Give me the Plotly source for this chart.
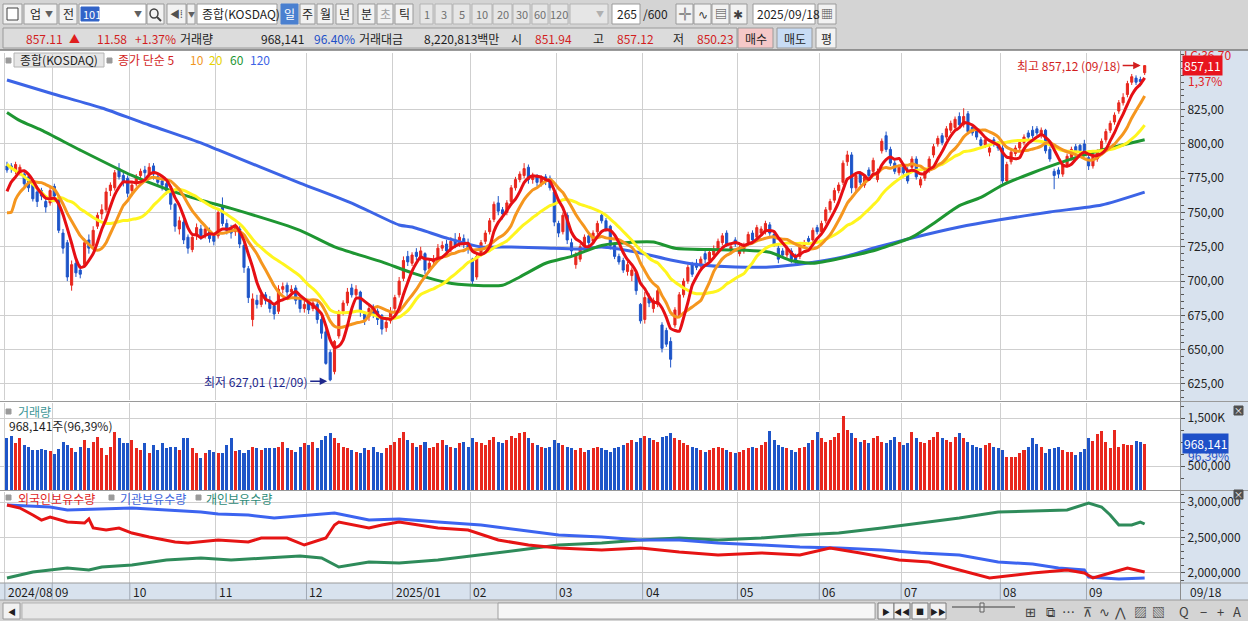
import numpy as np
import pandas as pd
import plotly.graph_objects as go

W, H = 1248, 621
PLOT_R = 1180   # right edge of the chart panes, px
FONT = "Noto Sans CJK KR, Noto Sans, DejaVu Sans, sans-serif"

# ---------------------------------------------------------------- data
month_labels = ["2024/08", "09", "10", "11", "12", "2025/01", "02", "03", "04",
                "05", "06", "07", "08", "09"]
month_start = [0, 11, 29, 49, 70, 90, 108, 128, 148, 170, 189, 208, 231, 251]

# closes before 08/16 (only used to seed the 5/10/20 day averages)
prior_closes = [839, 824, 822, 817, 819, 819, 821, 818, 815, 812, 779, 691, 732,
                737, 733, 748, 766, 764, 768]

opens = [
    784, 784, 780, 779, 778, 776, 771, 765, 766, 758, 757,
    769, 760, 735, 728, 697, 713, 708, 712, 730, 726, 740, 749, 752, 766, 768, 782, 777, 775,
    766, 772, 777, 781, 778, 784, 776, 773, 771, 764, 756, 738, 743, 732, 723, 733, 738, 734, 737, 733,
    733, 755, 742, 738, 736, 738, 726, 709, 672, 686, 683, 690, 686, 682, 678, 694, 697, 692, 695, 688, 680,
    684, 680, 683, 672, 663, 648, 634, 660, 678, 684, 695, 690, 692, 676, 674, 681, 678, 675, 666, 671,
    680, 690, 702, 718, 713, 721, 717, 720, 709, 714, 716, 724, 727, 723, 730, 727, 731, 728,
    716, 703, 720, 729, 736, 745, 757, 752, 750, 758, 768, 774, 777, 783, 774, 776, 771, 776, 775, 765,
    742, 736, 748, 728, 712, 716, 726, 733, 729, 736, 748, 744, 740, 726, 718, 715, 707, 704, 706, 683,
    672, 688, 680, 683, 668, 664, 656, 668, 675, 690, 700, 712, 713, 711, 720, 715, 719, 722, 728, 735, 722, 730,
    720, 722, 728, 735, 732, 735, 736, 741, 734, 724, 722, 719, 722, 718, 718, 726, 731, 730, 739,
    736, 744, 752, 759, 766, 772, 787, 792, 768, 778, 770, 781, 780, 774, 795, 806, 796, 786, 779,
    783, 781, 783, 789, 770, 775, 781, 792, 800, 806, 805, 810, 812, 820, 814, 822, 812, 810, 803, 799, 794, 803, 800,
    797, 773, 787, 793, 797, 801, 808, 810, 811, 806, 810, 796, 780, 781, 778, 785, 790, 798, 799, 800,
    790, 784, 789, 796, 803, 810, 816, 824, 830, 836, 845, 848, 847, 851.94,
]
highs = [
    787, 786, 787, 785, 780, 778, 773, 767, 768, 760, 768,
    771, 761, 738, 730, 715, 717, 712, 731, 734, 740, 750, 756, 768, 772, 781, 786, 780, 777,
    772, 778, 782, 784, 786, 786, 778, 775, 773, 766, 757, 747, 745, 734, 735, 742, 741, 741, 739, 735,
    753, 761, 745, 741, 742, 740, 728, 711, 691, 690, 693, 692, 689, 684, 697, 699, 699, 697, 697, 690, 686,
    687, 686, 685, 674, 666, 650, 657, 679, 686, 695, 698, 697, 693, 678, 683, 683, 680, 676, 673, 681,
    690, 703, 718, 722, 721, 724, 725, 721, 716, 719, 727, 729, 730, 732, 735, 735, 734, 731,
    717, 720, 730, 737, 746, 758, 762, 754, 759, 770, 776, 780, 786, 785, 779, 778, 777, 778, 777, 766,
    744, 750, 750, 731, 721, 727, 734, 735, 737, 744, 751, 746, 741, 728, 720, 717, 714, 710, 708, 684,
    692, 691, 688, 695, 670, 666, 659, 681, 692, 702, 712, 714, 716, 718, 722, 723, 726, 731, 735, 737, 727, 732,
    726, 728, 736, 737, 741, 740, 744, 743, 736, 726, 724, 726, 724, 720, 727, 730, 733, 739, 741,
    744, 754, 760, 768, 772, 788, 795, 794, 779, 780, 778, 783, 790, 782, 804, 809, 798, 788, 785,
    786, 783, 791, 791, 776, 782, 791, 800, 806, 808, 813, 817, 820, 823, 826, 824, 814, 812, 805, 805, 799, 805, 802,
    799, 787, 796, 799, 803, 807, 810, 813, 813, 812, 811, 798, 782, 783, 786, 793, 798, 800, 800, 803,
    792, 793, 796, 804, 811, 817, 823, 832, 837, 846, 851, 850, 849, 857.12,
]
lows = [
    779, 779, 778, 777, 769, 765, 758, 754, 759, 750, 755,
    760, 735, 720, 700, 693, 703, 702, 710, 720, 724, 738, 745, 750, 762, 766, 774, 769, 761,
    762, 769, 774, 775, 776, 774, 769, 766, 763, 752, 736, 734, 727, 720, 721, 730, 730, 731, 728, 726,
    731, 740, 734, 731, 733, 724, 706, 684, 667, 680, 681, 683, 677, 672, 676, 691, 689, 690, 683, 677, 677,
    676, 678, 669, 658, 639, 627.01, 632, 658, 675, 682, 688, 688, 674, 668, 671, 673, 668, 661, 663, 669,
    678, 688, 700, 711, 711, 715, 715, 705, 706, 711, 714, 722, 719, 721, 724, 725, 724, 720,
    697, 701, 718, 727, 734, 743, 748, 745, 748, 756, 766, 772, 775, 771, 771, 769, 769, 770, 766, 740,
    732, 734, 727, 719, 709, 714, 724, 726, 727, 734, 742, 736, 723, 716, 712, 706, 704, 700, 690, 669,
    669, 681, 677, 681, 648, 652, 637, 666, 673, 688, 698, 703, 708, 709, 713, 713, 717, 720, 726, 725, 720, 725,
    718, 720, 726, 728, 730, 733, 734, 733, 725, 713, 717, 717, 713, 712, 716, 724, 727, 728, 734,
    734, 742, 750, 757, 764, 770, 784, 764, 765, 770, 768, 775, 778, 772, 793, 794, 784, 778, 777,
    777, 771, 781, 774, 768, 773, 779, 790, 798, 799, 803, 808, 810, 812, 812, 807, 806, 803, 797, 797, 791, 798, 795,
    771, 771, 785, 791, 795, 799, 803, 804, 806, 804, 793, 787, 767, 775, 776, 783, 788, 792, 792, 792,
    781, 782, 787, 794, 801, 808, 814, 822, 828, 834, 843, 843, 842, 850.23,
]
closes = [
    781, 782, 785, 783, 771, 768, 760, 758, 762, 754, 766,
    762, 737, 724, 703, 712, 706, 705, 728, 724, 737, 748, 752, 765, 770, 779, 776, 772, 764,
    770, 776, 780, 779, 783, 778, 772, 770, 766, 756, 740, 744, 730, 724, 732, 739, 733, 738, 731, 729,
    750, 742, 737, 735, 739, 727, 710, 688, 687, 683, 690, 686, 680, 676, 694, 696, 692, 694, 686, 680, 683,
    679, 684, 672, 662, 640, 628, 656, 677, 684, 692, 690, 694, 678, 672, 680, 676, 672, 665, 670, 678,
    688, 700, 715, 714, 719, 718, 722, 708, 713, 716, 724, 726, 722, 729, 726, 732, 727, 724,
    700, 718, 728, 735, 744, 756, 751, 749, 757, 768, 774, 778, 782, 774, 776, 772, 775, 773, 768, 743,
    735, 748, 730, 722, 719, 725, 732, 728, 735, 742, 744, 738, 726, 718, 714, 708, 712, 708, 693, 671,
    688, 684, 686, 693, 651, 654, 643, 679, 690, 700, 710, 705, 710, 716, 716, 721, 722, 729, 733, 727, 725, 727,
    724, 726, 734, 730, 739, 738, 742, 735, 727, 716, 719, 724, 716, 714, 725, 728, 729, 737, 736,
    742, 752, 758, 766, 770, 786, 792, 768, 777, 772, 776, 777, 788, 780, 802, 796, 786, 780, 783,
    779, 773, 789, 776, 774, 780, 789, 798, 804, 801, 811, 815, 818, 814, 820, 809, 808, 805, 799, 803, 797, 800, 797,
    773, 785, 794, 797, 801, 805, 805, 806, 808, 810, 795, 789, 777, 778, 784, 791, 796, 794, 795, 794,
    784, 791, 794, 802, 809, 815, 821, 830, 834, 844, 849, 845, 845.5, 857.11,
]

# volume, thousand shares
volume_k = [
    1076, 1132, 972, 1076, 938, 903, 833, 833, 854, 833, 813, 743, 854, 1007, 938, 868, 799, 903, 1042, 882,
    1007, 1100, 868, 729, 903, 1215, 1076, 972, 972, 1042, 882, 833, 972, 764, 938, 833, 972, 868, 903, 903,
    833, 1076, 1090, 868, 764, 660, 764, 833, 799, 764, 764, 938, 1076, 813, 833, 764, 833, 903, 868, 833,
    882, 882, 868, 903, 1007,
    868, 833, 799, 903, 972, 938, 1007, 868, 1042, 1132, 1180, 1076, 972, 903, 868, 833, 799, 764, 868, 833,
    903, 799, 764, 868, 938, 1007,
    1076, 1215, 1042, 972, 903, 938, 1007, 868, 903, 972, 1042, 938, 903, 868, 972, 1007, 903, 1076, 1007, 972,
    938, 1042, 1107, 1007, 972, 1042, 1132, 1076, 1180, 1215,
    1076, 972, 938, 903, 868, 903, 1042, 972, 938, 903, 868, 833, 868, 799, 833, 868, 903, 868, 833, 799,
    868, 903, 938, 972, 1042, 1007, 1076, 1132, 1076, 1042,
    1007, 1107, 1132, 1180, 1076, 1042, 972, 938, 903, 868, 833, 799, 833, 868, 903, 868, 833, 799, 764, 799,
    833, 868, 903, 868, 938, 1007, 1230, 1042, 938, 903,
    868, 833, 799, 868, 903, 972, 1042, 1200, 1076, 1007, 1042, 1107, 1180, 1550, 1250, 1180, 1076, 1007, 1042, 972,
    1076, 1132, 1007, 972, 1042, 1107, 1007, 938, 972, 1200,
    1076, 1007, 972, 1042, 1107, 1200, 1076, 1042, 1007, 1107, 1180, 1076, 1007, 938, 903, 868, 938, 972, 903, 868,
    833, 694, 694, 694, 764, 833, 903, 1076, 951, 903, 764, 854, 868, 889, 833, 785, 785, 729, 785, 854,
    1076, 1021, 1160, 1229, 993, 882, 1250, 903, 951, 938, 938, 1021, 993, 968.141,
]

# 60 / 120 day averages (bar index, value)
ma60_idx = [0, 3, 8, 17, 29, 38, 45, 52, 68, 76, 87, 94, 102, 108, 115, 119, 125, 131, 138, 146,
            150, 155, 163, 169, 177, 182, 187, 194, 202, 210, 215, 221, 226, 231, 238, 246, 254, 264]
ma60_val = [823, 817, 810, 795.5, 777, 766, 759, 753, 737, 725, 714, 706, 699, 697, 697, 703, 713, 718, 726, 728.5,
            728.5, 724, 723, 722.7, 721, 715, 713, 717, 723, 732, 742, 755, 761, 770, 779, 788, 795.5, 803]
ma120_idx = [0, 10, 22, 33, 45, 49, 68, 80, 91, 94, 102, 110, 117, 125, 133, 138, 146, 154, 161, 169,
             177, 186, 194, 202, 210, 221, 230, 242, 254, 264]
ma120_val = [846.6, 837.1, 826.2, 813.8, 800.7, 795.6, 771.5, 756.9, 740.9, 739.4, 731.4, 724.9, 724.9, 724.1,
             723.4, 724.9, 721.2, 715.4, 711.7, 710.3, 710.3, 713.2, 717.6, 724.9, 731.4, 739.4, 744.5, 750.4,
             755.5, 764.9]

# holdings (shares)
foreign_idx = [0, 3, 6, 8, 10, 14, 18, 19, 20, 23, 26, 29, 33, 39, 42, 49, 56, 59, 65, 69, 74, 76, 77, 84,
               87, 91, 100, 107, 114, 121, 128, 138, 147, 156, 165, 175, 184, 191, 198, 207, 214, 221, 228,
               238, 246, 250, 252, 256, 260, 264]
foreign_qty = [2958000, 2915000, 2817000, 2746000, 2789000, 2718000, 2704000, 2761000, 2634000, 2606000,
               2634000, 2563000, 2507000, 2437000, 2423000, 2465000, 2437000, 2493000, 2493000, 2394000,
               2493000, 2676000, 2718000, 2634000, 2676000, 2718000, 2634000, 2606000, 2465000, 2394000,
               2352000, 2324000, 2352000, 2296000, 2254000, 2282000, 2254000, 2352000, 2282000, 2183000,
               2155000, 2042000, 1930000, 2000000, 2042000, 2000000, 1930000, 2000000, 2070000, 2014000]
inst_idx = [0, 10, 14, 22, 29, 37, 45, 49, 56, 62, 68, 76, 84, 91, 100, 110, 119, 128, 138, 147, 156, 165,
            175, 184, 193, 203, 212, 221, 230, 238, 244, 250, 251, 258, 264]
inst_qty = [2958000, 2930000, 2887000, 2901000, 2915000, 2887000, 2859000, 2831000, 2817000, 2775000,
            2803000, 2845000, 2746000, 2761000, 2718000, 2676000, 2606000, 2535000, 2507000, 2465000,
            2465000, 2423000, 2394000, 2366000, 2352000, 2324000, 2282000, 2254000, 2155000, 2127000,
            2070000, 2042000, 1944000, 1915000, 1930000]
indiv_idx = [0, 6, 10, 14, 19, 22, 29, 37, 45, 52, 60, 68, 73, 77, 84, 91, 100, 110, 119, 128, 138, 147,
             156, 165, 175, 184, 193, 203, 212, 221, 230, 246, 251, 254, 256, 258, 261, 263, 264]
indiv_qty = [1930000, 2014000, 2042000, 2070000, 2042000, 2085000, 2113000, 2183000, 2211000, 2183000,
             2211000, 2239000, 2211000, 2085000, 2155000, 2141000, 2183000, 2254000, 2324000, 2394000,
             2423000, 2465000, 2493000, 2465000, 2493000, 2535000, 2563000, 2634000, 2704000, 2775000,
             2859000, 2887000, 2986000, 2930000, 2817000, 2676000, 2676000, 2718000, 2690000]

price_ticks = [625, 650, 675, 700, 725, 750, 775, 800, 825]

# ---------------------------------------------------------------- colours
C_UP, C_DN = "#e8281e", "#1e55c8"
C_MA = {5: "#e60f14", 10: "#f5961e", 20: "#fff51e", 60: "#1e9632", 120: "#3c64e6"}
GRID = "#cfcfcf"
PANEL = "#d8e2ee"
TOOL = "#d4d4d4"

idx = np.arange(len(closes))
allc = pd.Series(prior_closes + closes, dtype=float)
n0 = len(prior_closes)
ma = {k: allc.rolling(k).mean().values[n0:] for k in (5, 10, 20)}
bar_col = [C_UP if c >= o else C_DN for o, c in zip(opens, closes)]

shapes, annos = [], []


def box(x0, y0, x1, y1, fill, line="#9a9a9a", lw=1, layer="below"):
    shapes.append(dict(type="rect", xref="paper", yref="paper", x0=x0 / W, x1=x1 / W,
                       y0=1 - y1 / H, y1=1 - y0 / H, fillcolor=fill,
                       line=dict(color=line, width=lw), layer=layer))


def seg(x0, y0, x1, y1, color, lw=1):
    shapes.append(dict(type="line", xref="paper", yref="paper", x0=x0 / W, x1=x1 / W,
                       y0=1 - y0 / H, y1=1 - y1 / H, line=dict(color=color, width=lw), layer="above"))


def label(x, y, s, color="#1e1e1e", size=12, anchor="left", bg=None):
    a = dict(xref="paper", yref="paper", x=x / W, y=1 - y / H, text=s, showarrow=False,
             xanchor=anchor, yanchor="middle", font=dict(family=FONT, size=size, color=color),
             borderpad=0)
    if bg:
        a["bgcolor"] = bg
    annos.append(a)


# ---- backgrounds
box(0, 0, W, 50, TOOL, line=TOOL, lw=0)
box(PLOT_R, 50, W, 600, PANEL, line=PANEL, lw=0)
box(0, 583, PLOT_R, 600, PANEL, line=PANEL, lw=0)
box(0, 600, W, H, TOOL, line=TOOL, lw=0)

# ---- toolbar row 1
box(3, 4, 22, 24, "#f2f2f2")
box(7, 8, 18, 20, "#ffffff", line="#404040")
box(24, 4, 57, 24, "#f2f2f2")
label(29, 14, "업")
label(49, 14, "▼", "#606060", 8, "center")
box(59, 4, 77, 24, "#f2f2f2")
label(68, 14, "전", anchor="center")
box(79, 4, 146, 24, "#ffffff")
box(81, 7, 99, 21, "#3264c8", line="#3264c8")
label(82, 14, "101", "#ffffff", 11)
label(138, 14, "▼", "#606060", 8, "center")
box(147, 4, 164, 24, "#f2f2f2")
shapes.append(dict(type="circle", xref="paper", yref="paper", x0=150 / W, x1=158 / W,
                   y0=1 - 18 / H, y1=1 - 9 / H, line=dict(color="#404040", width=1.5)))
seg(157, 17, 161, 21, "#404040", 2)
box(167, 4, 186, 24, "#f2f2f2")
label(176, 14, "◀⁞", "#505050", 10, "center")
box(187, 4, 195, 24, "#f2f2f2")
label(191, 14, "▼", "#606060", 7, "center")
box(197, 4, 277, 24, "#ffffff")
label(201, 14, "종합(KOSDAQ)", "#1e1e1e", 12)
for k, (t, a, b) in enumerate([("일", 281, 298), ("주", 300, 315), ("월", 317, 333), ("년", 336, 353),
                              ("분", 358, 375), ("초", 377, 393), ("틱", 395, 413)]):
    box(a, 4, b, 24, "#4a80d0" if k == 0 else "#f2f2f2", line="#4a80d0" if k == 0 else "#9a9a9a")
    label((a + b) / 2, 14, t, "#ffffff" if k == 0 else ("#a0a0a0" if t == "초" else "#1e1e1e"),
          12, "center")
for t, a, b in [("1", 420, 433), ("3", 435, 452), ("5", 453, 470), ("10", 472, 492), ("20", 493, 512),
                ("30", 513, 530), ("60", 532, 548), ("120", 550, 568)]:
    box(a, 4, b, 24, "#e6e6e6", line="#b4b4b4")
    label((a + b) / 2, 14, t, "#707070", 11, "center")
box(570, 4, 608, 24, "#e6e6e6", line="#b4b4b4")
label(600, 14, "▼", "#b0b0b0", 8, "center")
box(612, 4, 640, 24, "#ffffff")
label(638, 14, "265", anchor="right")
label(642, 14, "/600", "#1e1e1e", 12)
for t, a in [("╬", 676), ("∿", 694), ("▤", 712), ("✱", 730)]:
    box(a, 4, a + 17, 24, "#f2f2f2")
    label(a + 8.5, 14, t, "#404040", 12, "center")
box(753, 4, 815, 24, "#ffffff")
label(756, 14, "2025/09/18")
box(818, 4, 836, 24, "#f2f2f2")
label(827, 14, "▦", "#505050", 12, "center")

# ---- toolbar row 2
box(3, 28, 737, 48, "#dcdcdc")
label(64, 38, "857.11", "#d21e1e", 12, "right")
label(74, 38, "▲", "#e01e1e", 11, "center")
label(128, 38, "11.58", "#d21e1e", 12, "right")
label(177, 38, "+1.37%", "#d21e1e", 12, "right")
label(179, 38, "거래량")
label(305, 38, "968,141", anchor="right")
label(356, 38, "96.40%", "#1e50c8", 12, "right")
label(358, 38, "거래대금")
label(423, 38, "8,220,813백만")
label(510, 38, "시")
label(573, 38, "851.94", "#d21e1e", 12, "right")
label(592, 38, "고")
label(655, 38, "857.12", "#d21e1e", 12, "right")
label(672, 38, "저")
label(735, 38, "850.23", "#d21e1e", 12, "right")
box(738, 28, 773, 48, "#f5c8c8")
label(755.5, 38, "매수", anchor="center")
box(777, 28, 812, 48, "#c8dcf5")
label(794.5, 38, "매도", anchor="center")
box(816, 28, 836, 48, "#f2f2f2")
label(826, 38, "평", anchor="center")

# ---- pane separators
seg(0, 50, W, 50, "#7a7a7a", 1.5)
seg(0, 401.5, W, 401.5, "#9a9a9a")
seg(0, 490.5, W, 490.5, "#9a9a9a")
seg(0, 583, W, 583, "#9a9a9a")
seg(0, 600, W, 600, "#9a9a9a")
seg(PLOT_R + 0.5, 50, PLOT_R + 0.5, 600, "#8c8c8c")

# ---- pane legends
box(6, 58, 11, 63, "#9a9a9a", line="#9a9a9a")
box(14, 53, 104, 67, "#e6e6e6", line="#b4b4b4")
label(59, 60, "종합(KOSDAQ)", "#1e1e1e", 12, "center")
box(107, 58, 112, 63, "#9a9a9a", line="#9a9a9a")
label(117, 60, "종가 단순 5", "#d21e1e")
label(189, 60, "10", "#f0961e")
label(208, 60, "20", "#e6d200")
label(229, 60, "60", "#1e9632")
label(249, 60, "120", "#3c64e6")

box(6, 409, 11, 414, "#9a9a9a", line="#9a9a9a")
label(17, 411, "거래량", "#3c9696")
label(8, 425, "968,141주(96,39%)", "#1e1e1e")

box(6, 495, 11, 500, "#9a9a9a", line="#9a9a9a")
label(17, 498, "외국인보유수량", "#e01e1e")
box(109, 495, 114, 500, "#9a9a9a", line="#9a9a9a")
label(119, 498, "기관보유수량", "#3c64dc")
box(196, 495, 201, 500, "#9a9a9a", line="#9a9a9a")
label(205, 498, "개인보유수량", "#2e8b78")

# ---- right column labels
label(1183, 55, "LC:36,70", "#e01e1e", 12)
annos.append(dict(xref="paper", yref="y", x=1182 / W, y=closes[-1], text="857,11", showarrow=False,
                  xanchor="left", yanchor="middle", bgcolor="#e8141e",
                  font=dict(family=FONT, size=12, color="#ffffff"), borderpad=1))
label(1187, 80, "1,37%", "#e01e1e", 12)
annos.append(dict(xref="paper", yref="y2", x=1182 / W, y=volume_k[-1], text="968,141", showarrow=False,
                  xanchor="left", yanchor="middle", bgcolor="#1e50c8",
                  font=dict(family=FONT, size=12, color="#ffffff"), borderpad=1))
label(1187, 455, "96,39%", "#1e50c8", 12)
for yy in (410, 494):
    box(1234, yy - 4, 1243, yy + 5, "#505050", line="#505050", layer="above")
    label(1238.5, yy, "×", "#ffffff", 9, "center")
label(1189, 591, "09/18", "#1e1e1e", 12)

# ---- month labels in the date strip
for lab, s in zip(month_labels, month_start):
    annos.append(dict(xref="x", yref="paper", x=s - 0.5, y=1 - 591 / H, text=lab, showarrow=False,
                      xanchor="left", yanchor="middle", xshift=1,
                      font=dict(family=FONT, size=12, color="#1e1e1e")))
    shapes.append(dict(type="line", xref="x", yref="paper", x0=s - 0.5, x1=s - 0.5,
                       y0=1 - 600 / H, y1=1 - 583 / H, line=dict(color="#a0a8b4", width=1)))

# ---- high / low markers
annos.append(dict(xref="x", yref="y", x=264, y=857.12, text="최고 857,12 (09/18)", showarrow=True,
                  ax=-22, ay=0, arrowhead=2, arrowsize=1, arrowwidth=1.5, arrowcolor="#d21e1e",
                  standoff=4, xanchor="right", font=dict(family=FONT, size=12, color="#d21e1e")))
annos.append(dict(xref="x", yref="y", x=75, y=627.01, text="최저 627,01 (12/09)", showarrow=True,
                  ax=-20, ay=0, arrowhead=2, arrowsize=1, arrowwidth=1.5, arrowcolor="#1e288c",
                  standoff=3, xanchor="right", font=dict(family=FONT, size=12, color="#1e288c")))

# ---- bottom scroll bar
box(3, 603, 20, 619, "#f2f2f2")
label(11.5, 611, "◀", "#202020", 8, "center")
box(22, 603, 875, 619, "#e8e8e8", line="#b4b4b4")
box(498, 603, 875, 619, "#f6f6f6", line="#a0a0a0")
for t, a in [("▶", 878), ("◀◀", 894), ("■", 912), ("▶▶", 930)]:
    box(a, 603, a + 16, 619, "#f2f2f2", line="#7a7a7a")
    label(a + 8, 611, t, "#202020", 8, "center")
seg(952, 607, 1015, 607, "#707070", 1.5)
box(980, 603, 984, 612, "#e0e0e0", line="#606060")
for t, a in [("⊞", 1030), ("⧉", 1050), ("⋯", 1068), ("⊼", 1088), ("∿", 1104), ("⋀", 1120),
             ("▨", 1140), ("▧", 1158), ("Q", 1184), ("−", 1203), ("+", 1220), ("A", 1237)]:
    label(a, 611, t, "#404040", 13, "center")

# ---------------------------------------------------------------- traces
fig = go.Figure()
fig.add_trace(go.Candlestick(
    x=idx, open=opens, high=highs, low=lows, close=closes, xaxis="x", yaxis="y",
    increasing=dict(line=dict(color=C_UP, width=1), fillcolor=C_UP),
    decreasing=dict(line=dict(color=C_DN, width=1), fillcolor=C_DN),
    whiskerwidth=0, hoverinfo="skip"))
fig.add_trace(go.Scatter(x=ma120_idx, y=ma120_val, mode="lines", xaxis="x", yaxis="y",
                         line=dict(color=C_MA[120], width=3, shape="spline", smoothing=0.6)))
fig.add_trace(go.Scatter(x=ma60_idx, y=ma60_val, mode="lines", xaxis="x", yaxis="y",
                         line=dict(color=C_MA[60], width=3, shape="spline", smoothing=0.6)))
for k in (20, 10, 5):
    fig.add_trace(go.Scatter(x=idx, y=ma[k], mode="lines", xaxis="x", yaxis="y",
                             line=dict(color=C_MA[k], width=3, shape="spline", smoothing=0.5)))

fig.add_trace(go.Bar(x=idx, y=volume_k, xaxis="x2", yaxis="y2", width=0.7,
                     marker=dict(color=bar_col, line=dict(width=0))))

for xi, yv, col in [(indiv_idx, indiv_qty, "#2e8b5a"), (inst_idx, inst_qty, "#3c64f0"),
                    (foreign_idx, foreign_qty, "#e61414")]:
    fig.add_trace(go.Scatter(x=xi, y=yv, mode="lines", xaxis="x3", yaxis="y3",
                             line=dict(color=col, width=3)))

# ---------------------------------------------------------------- axes
grid_x = [s - 0.5 for s in month_start]
xa = dict(domain=[0, PLOT_R / W], range=[-1.62, 272.2], tickmode="array", tickvals=grid_x,
          showticklabels=False, showgrid=True, gridcolor=GRID, zeroline=False, ticks="",
          showline=False, fixedrange=True)
ya = dict(side="right", showline=True, linecolor="#8c8c8c", ticks="outside", ticklen=4,
          tickcolor="#555555", tickfont=dict(family=FONT, size=12, color="#222222"),
          showgrid=True, gridcolor=GRID, zeroline=False, fixedrange=True, tickmode="array")

fig.update_layout(
    width=W, height=H, margin=dict(l=0, r=0, t=0, b=0),
    paper_bgcolor="#ffffff", plot_bgcolor="rgba(0,0,0,0)",
    showlegend=False, bargap=0, font=dict(family=FONT, size=12),
    xaxis=dict(**xa, anchor="y", rangeslider=dict(visible=False)),
    xaxis2=dict(**xa, anchor="y2"),
    xaxis3=dict(**xa, anchor="y3"),
    yaxis=dict(**ya, anchor="x", domain=[1 - 400 / H, 1 - 53 / H], range=[613.3, 866.3],
               tickvals=price_ticks, ticktext=["%d,00" % v for v in price_ticks],
               minor=dict(ticks="outside", ticklen=3, dtick=5, tick0=0, tickcolor="#555555",
                          showgrid=False)),
    yaxis2=dict(**ya, anchor="x2", domain=[1 - 490 / H, 1 - 403 / H], range=[0, 1812.5],
                tickvals=[500, 1500], ticktext=["500,000", "1,500K"],
                minor=dict(ticks="outside", ticklen=3, dtick=250, tick0=0, tickcolor="#555555",
                           showgrid=False)),
    yaxis3=dict(**ya, anchor="x3", domain=[1 - 583 / H, 1 - 492 / H], range=[1859000, 3141000],
                tickvals=[2000000, 2500000, 3000000], ticktext=["2,000,000", "2,500,000", "3,000,000"],
                minor=dict(ticks="outside", ticklen=3, dtick=100000, tick0=0, tickcolor="#555555",
                           showgrid=False)),
    shapes=shapes, annotations=annos,
)

# the page body has a default 8px margin; drop it so the figure fills the window
fig.write_html("out.html", config={"displayModeBar": False},
               post_script="document.body.style.margin='0px';")
